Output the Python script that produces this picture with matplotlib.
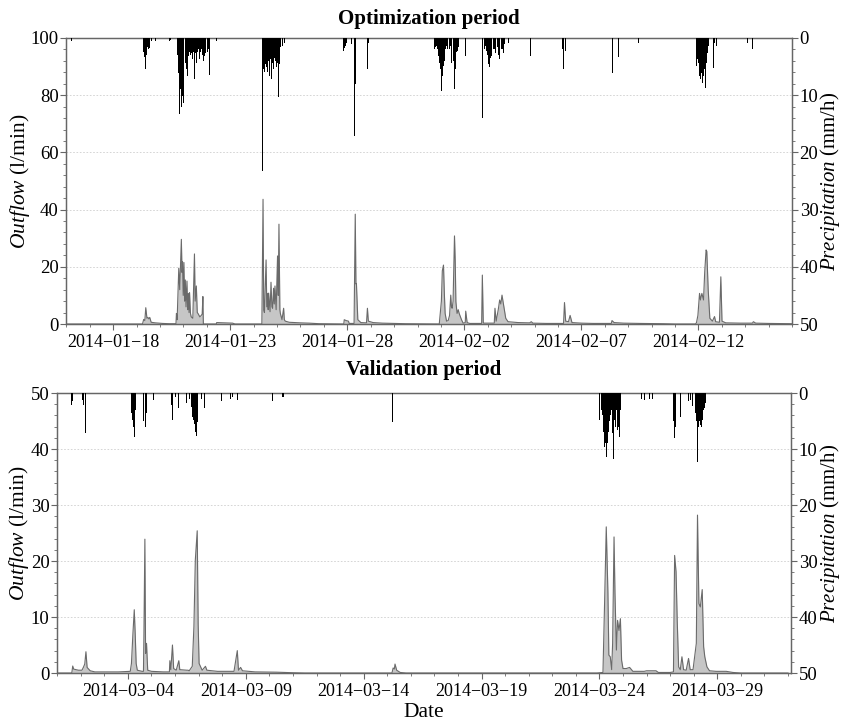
import numpy as np
import pandas as pd
import matplotlib
matplotlib.use("Agg")
import matplotlib.pyplot as plt
from matplotlib.ticker import MultipleLocator

# --- optimization period (days since 2014-01-16) ---
opt_start = "2014-01-16"
opt_q_day = [0.00, 3.25, 3.30, 3.35, 3.39, 3.44, 3.48, 3.52, 3.56, 3.62, 3.80, 4.10, 4.40,
             4.68, 4.70, 4.73, 4.80, 4.84, 4.91, 4.94, 4.96, 4.99, 5.02, 5.05, 5.08, 5.11,
             5.15, 5.18, 5.21, 5.24, 5.26, 5.30, 5.33, 5.40, 5.47, 5.50, 5.55, 5.59, 5.62,
             5.70, 5.76, 5.80, 5.83, 5.85, 6.40, 6.42, 7.10, 7.20,
             8.35, 8.40, 8.43, 8.46, 8.53, 8.56, 8.60, 8.62, 8.64, 8.70, 8.74, 8.78, 8.81,
             8.85, 8.88, 8.91, 8.96, 9.02, 9.05, 9.08, 9.12, 9.14, 9.21, 9.28, 9.31, 9.35,
             9.52, 10.00, 10.37, 10.80,
             11.85, 11.87, 11.95, 12.05, 12.08, 12.29, 12.34, 12.37, 12.39, 12.45, 12.58,
             12.82, 12.86, 12.90, 13.10, 13.50, 14.00, 14.50,
             15.93, 15.96, 16.02, 16.06, 16.11, 16.15, 16.18, 16.24, 16.31, 16.37, 16.42,
             16.45, 16.48, 16.52, 16.58, 16.61, 16.64, 16.69, 16.74, 16.78, 16.88, 16.95,
             17.04, 17.06, 17.12, 17.23, 17.74, 17.77, 17.81, 17.83, 18.28, 18.31, 18.36,
             18.45, 18.51, 18.56, 18.61, 18.68, 18.77, 18.87, 19.30, 19.79, 19.86, 19.93,
             20.50, 21.24, 21.28, 21.33, 21.45, 21.52, 21.60, 22.00, 22.50, 23.28, 23.31,
             23.40, 23.80, 24.50, 25.50, 26.00,
             26.88, 26.92, 26.98, 27.05, 27.09, 27.15, 27.22, 27.27, 27.33, 27.36, 27.42,
             27.49, 27.60, 27.69, 27.74, 27.90, 27.96, 28.01, 28.17, 28.80, 29.31, 29.35,
             29.45, 30.00, 31.00]
opt_q = [0.0, 0.0, 1.6, 1.2, 5.7, 2.0, 2.3, 1.8, 2.3, 0.6, 0.4, 0.2, 0.1,
         0.1, 3.7, 1.5, 19.5, 12.0, 29.6, 18.0, 21.8, 10.0, 21.5, 8.0, 15.4, 6.0,
         15.0, 5.0, 10.7, 4.0, 11.0, 3.7, 2.5, 2.0, 24.5, 8.0, 13.3, 4.0, 3.7,
         2.5, 3.0, 3.5, 9.6, 0.0, 0.0, 0.5, 0.3, 0.0,
         0.0, 43.6, 4.9, 4.0, 22.4, 6.0, 10.7, 5.0, 10.8, 4.3, 14.6, 6.0, 5.5,
         12.5, 7.0, 13.3, 5.0, 23.8, 10.0, 34.9, 5.0, 3.7, 1.5, 5.5, 1.5, 1.0,
         0.6, 0.4, 0.3, 0.1,
         0.0, 1.5, 1.2, 1.0, 0.2, 0.2, 38.4, 14.0, 14.2, 1.5, 0.5,
         0.4, 5.5, 1.0, 0.5, 0.3, 0.2, 0.1,
         0.0, 2.6, 8.0, 18.6, 20.6, 10.0, 3.7, 1.0, 1.2, 3.0, 10.1,
         6.0, 5.5, 8.0, 30.8, 22.6, 7.8, 3.7, 5.0, 3.7, 1.5, 0.3,
         0.5, 4.5, 0.5, 0.2, 0.2, 17.1, 0.5, 0.3, 0.3, 5.5, 1.0,
         5.0, 8.4, 7.0, 10.1, 6.6, 2.0, 0.8, 0.5, 0.4, 0.8, 0.3,
         0.2, 0.2, 7.5, 1.0, 0.8, 3.0, 0.5, 0.3, 0.2, 0.2, 1.2,
         0.5, 0.3, 0.2, 0.1, 0.0,
         0.0, 0.5, 3.0, 10.7, 8.4, 10.7, 8.4, 18.0, 25.9, 25.4, 12.0,
         2.0, 1.0, 2.6, 0.8, 0.6, 16.5, 1.0, 0.4, 0.3, 0.3, 0.8,
         0.3, 0.2, 0.1]

opt_p_day = [0.22,
             3.27, 3.30, 3.34, 3.37, 3.39, 3.42, 3.44, 3.47, 3.50, 3.53, 3.56, 3.63, 3.80,
             4.40, 4.45,
             4.72, 4.75, 4.78, 4.81, 4.84, 4.86, 4.89, 4.92, 4.95, 4.97, 4.99, 5.01, 5.03,
             5.06, 5.08, 5.10, 5.12, 5.14, 5.16, 5.19, 5.22, 5.25, 5.28, 5.30, 5.33, 5.36,
             5.40, 5.43, 5.46, 5.49, 5.52, 5.55, 5.57, 5.60, 5.63, 5.66, 5.69, 5.72, 5.76,
             5.80, 5.83, 5.86, 5.89, 5.91, 5.94, 5.97, 6.00, 6.03, 6.06, 6.08, 6.11, 6.14,
             6.17, 6.26, 6.40, 6.61,
             8.39, 8.41, 8.43, 8.45, 8.47, 8.50, 8.53, 8.55, 8.57, 8.59, 8.61, 8.64, 8.67,
             8.69, 8.71, 8.74, 8.76, 8.78, 8.81, 8.83, 8.86, 8.88, 8.90, 8.93, 8.95, 8.98,
             9.01, 9.04, 9.07, 9.09, 9.11, 9.14, 9.17, 9.24, 9.31,
             11.85, 11.88, 11.91, 11.97, 12.18, 12.28, 12.30, 12.32, 12.34, 12.36, 12.41,
             12.86, 12.90,
             15.74, 15.77, 15.80, 15.85, 15.89, 15.92, 15.94, 15.96, 15.98, 16.00, 16.03,
             16.05, 16.07, 16.09, 16.11, 16.14, 16.17, 16.20, 16.23, 16.26, 16.28, 16.31,
             16.34, 16.37, 16.40, 16.43, 16.45, 16.48, 16.51, 16.54, 16.57, 16.59, 16.61,
             16.63, 16.65, 16.68, 16.71, 16.74, 16.77, 17.05,
             17.79, 17.85, 17.90, 17.93, 17.96, 17.99, 18.02, 18.04, 18.06, 18.08, 18.10,
             18.13, 18.16, 18.19, 18.22, 18.25, 18.27, 18.30, 18.33, 18.36, 18.39, 18.42,
             18.44, 18.47, 18.50, 18.53, 18.56, 18.58, 18.61, 18.64, 18.67, 18.70, 18.73,
             18.90, 19.42, 19.64, 19.82,
             21.20, 21.25, 21.31, 21.48, 23.34, 23.40, 23.58, 24.38, 24.44, 24.55,
             26.92, 26.94, 26.96, 26.99, 27.01, 27.03, 27.05, 27.07, 27.09, 27.11, 27.13,
             27.16, 27.18, 27.20, 27.22, 27.24, 27.26, 27.28, 27.30, 27.33, 27.35, 27.37,
             27.39, 27.41, 27.43, 27.65, 27.70, 27.77, 27.84, 27.93, 29.09, 29.32]
opt_p = [0.6,
         3.1, 2.5, 3.4, 2.8, 5.4, 3.0, 2.3, 1.5, 2.0, 1.2, 1.7, 0.5, 0.5,
         0.6, 0.4,
         4.0, 3.0, 6.1, 8.0, 13.3, 9.0, 15.7, 12.0, 10.1, 7.0, 11.3, 8.0, 6.6,
         3.5, 4.3, 4.0, 5.5, 3.0, 6.6, 4.0, 3.1, 2.5, 4.9, 3.0, 2.6, 2.0,
         3.7, 2.5, 7.2, 3.0, 2.6, 2.0, 4.3, 2.5, 2.0, 1.5, 3.7, 2.5, 2.0,
         3.0, 8.1, 4.0, 3.1, 1.5, 2.6, 2.0, 4.3, 2.5, 2.0, 1.5, 6.4, 2.0,
         1.4, 0.8, 0.5, 1.4,
         23.3, 4.0, 5.5, 6.0, 3.1, 4.5, 7.2, 5.0, 8.7, 6.0, 4.9, 4.0, 6.6,
         5.0, 3.7, 4.5, 7.2, 3.0, 4.3, 4.0, 5.5, 3.5, 3.1, 4.0, 6.1, 5.0,
         4.3, 3.0, 10.4, 4.5, 3.1, 1.5, 2.0, 1.4, 0.8,
         2.3, 1.8, 1.4, 0.8, 1.1, 2.3, 3.0, 17.1, 8.0, 6.9, 2.6,
         5.5, 0.8,
         2.0, 1.5, 1.4, 2.0, 3.1, 3.5, 4.3, 4.5, 5.5, 6.0, 9.3,
         7.0, 6.6, 5.5, 4.9, 4.0, 3.1, 2.0, 1.4, 1.5, 2.0, 1.5,
         2.3, 2.0, 1.4, 3.0, 4.3, 3.5, 3.1, 4.0, 9.0, 6.0, 5.5,
         4.0, 3.1, 2.5, 2.3, 1.5, 0.8, 3.1,
         13.9, 2.0, 1.4, 2.0, 2.3, 3.0, 3.7, 4.5, 5.8, 5.0, 4.3,
         3.5, 3.1, 2.5, 2.9, 2.0, 1.7, 2.0, 2.6, 2.2, 2.0, 1.6,
         1.4, 3.0, 3.7, 2.5, 2.9, 2.0, 2.3, 2.0, 2.6, 1.5, 1.1,
         0.8, 0.5, 2.0, 3.1,
         2.0, 5.5, 2.3, 4.3, 6.1, 1.1, 3.4, 1.4, 0.8, 0.8,
         4.9, 4.0, 3.7, 4.5, 4.3, 5.0, 6.6, 6.0, 7.2, 5.5, 6.1,
         5.0, 7.8, 6.0, 6.6, 5.0, 5.5, 6.0, 8.7, 5.0, 4.3, 3.0,
         2.6, 2.0, 1.4, 5.2, 0.8, 1.4, 0.8, 5.5, 0.8, 2.0]
opt_ticks = ["2014-01-18", "2014-01-23", "2014-01-28", "2014-02-02", "2014-02-07", "2014-02-12"]
opt_end = "2014-02-16"

# --- validation period (days since 2014-03-01) ---
val_start = "2014-03-01"
val_q_day = [0.00, 0.62, 0.66, 0.70, 0.90, 1.05, 1.11, 1.17, 1.22, 1.27, 1.40, 1.60, 2.60,
             3.10, 3.15, 3.21, 3.27, 3.31, 3.35, 3.40, 3.60, 3.66, 3.68, 3.72, 3.75, 3.79,
             3.84, 4.00, 4.50, 4.76, 4.78, 4.82, 4.89, 4.94, 5.05, 5.16, 5.20, 5.50, 5.55,
             5.60, 5.73, 5.80, 5.86, 5.94, 5.98, 6.02, 6.15, 6.29, 6.35, 6.80, 7.50, 7.64,
             7.69, 7.78, 7.86, 8.40, 9.30, 10.00, 10.50,
             14.20, 14.25, 14.30, 14.33, 14.40, 14.55, 14.80,
             22.90, 23.15, 23.22, 23.29, 23.36, 23.40, 23.46, 23.52, 23.56, 23.62, 23.66,
             23.72, 23.77, 23.83, 23.89, 23.94, 24.00, 24.14, 24.28, 24.42, 24.90, 25.00,
             25.40, 25.50, 26.00, 26.14, 26.19, 26.25, 26.30, 26.36, 26.43, 26.50, 26.57,
             26.68, 26.78, 26.85, 26.97, 27.11, 27.16, 27.22, 27.28, 27.36, 27.42, 27.47,
             27.56, 27.67, 27.95, 28.38, 28.66, 29.00, 31.00]
val_q = [0.0, 0.0, 1.25, 0.7, 0.5, 0.5, 1.0, 1.6, 3.8, 1.0, 0.4, 0.2, 0.2,
         0.3, 1.7, 6.8, 11.3, 7.0, 1.7, 0.5, 0.3, 0.3, 6.8, 23.9, 3.5, 5.3,
         0.5, 0.3, 0.2, 0.2, 2.2, 0.6, 5.0, 0.8, 0.5, 2.2, 0.6, 0.5, 0.5,
         0.4, 1.2, 8.3, 20.2, 25.4, 8.8, 1.7, 0.5, 1.2, 0.5, 0.3, 0.3, 4.0,
         0.5, 1.0, 0.4, 0.2, 0.15, 0.05, 0.0,
         0.0, 0.9, 0.7, 1.6, 0.5, 0.1, 0.0,
         0.0, 0.1, 12.7, 26.1, 14.5, 3.2, 2.9, 0.6, 5.3, 24.3, 14.2,
         4.1, 9.4, 7.6, 9.7, 2.3, 0.8, 0.8, 1.0, 0.3, 0.3, 0.4,
         0.4, 0.1, 0.1, 0.2, 21.0, 18.1, 9.4, 1.1, 0.6, 2.9, 0.6,
         0.5, 2.6, 0.6, 0.6, 5.3, 28.2, 12.4, 11.8, 14.9, 4.7, 2.9,
         1.1, 0.4, 0.3, 0.3, 0.1, 0.0, 0.0]

val_p_day = [0.61, 0.66, 0.71, 0.84, 1.01, 1.07, 1.12, 1.18, 1.21,
             3.14, 3.16, 3.18, 3.20, 3.22, 3.24, 3.27, 3.29, 3.31,
             3.65, 3.67, 3.69, 3.72, 3.74, 3.76, 3.79, 3.81, 3.98, 4.09,
             4.78, 4.84, 4.88, 4.95, 5.02, 5.14, 5.49, 5.60,
             5.70, 5.74, 5.77, 5.80, 5.82, 5.84, 5.86, 5.88, 5.91, 5.93, 5.95, 6.01,
             6.12, 6.24, 6.35, 6.69, 6.86, 6.97, 7.25, 7.35, 7.44, 7.54, 7.59, 7.65,
             8.31, 8.43, 9.12, 9.56, 9.60, 14.22, 14.25,
             22.94, 23.01, 23.08, 23.12, 23.15, 23.18, 23.21, 23.23, 23.25, 23.27, 23.29,
             23.31, 23.32, 23.34, 23.36, 23.38, 23.41, 23.43, 23.45, 23.47, 23.50, 23.53,
             23.56, 23.58, 23.60, 23.62, 23.65, 23.67, 23.69, 23.71, 23.73, 23.75, 23.77,
             23.79, 23.82, 23.84, 23.86, 23.90, 24.04, 24.21,
             24.78, 24.92, 25.02, 25.13, 25.24,
             26.12, 26.14, 26.16, 26.18, 26.20, 26.22, 26.25, 26.29, 26.44,
             26.71, 26.77, 26.85, 26.94, 27.01, 27.07, 27.11, 27.13, 27.15, 27.17, 27.19,
             27.21, 27.23, 27.25, 27.28, 27.30, 27.32, 27.34, 27.36, 27.38, 27.40, 27.42,
             27.45, 27.47, 27.49, 28.24]
val_p = [2.1, 1.5, 1.0, 0.7, 1.8, 1.3, 2.1, 1.8, 7.1,
         2.5, 3.6, 4.0, 4.8, 5.0, 6.0, 7.8, 5.0, 3.0,
         4.2, 5.0, 6.3, 10.1, 6.0, 4.5, 3.5, 3.3, 1.8, 1.3,
         4.2, 2.1, 4.9, 1.3, 0.7, 2.7, 1.8, 1.0,
         2.5, 4.2, 4.8, 5.4, 5.5, 6.3, 6.5, 6.9, 7.7, 6.0, 5.1, 1.8,
         1.0, 2.7, 1.0, 1.3, 1.8, 1.5, 0.7, 1.0, 0.7, 1.5, 3.5, 1.3,
         1.0, 0.7, 1.5, 0.65, 0.7, 5.1, 3.9,
         1.0, 4.8, 3.0, 4.0, 6.0, 7.0, 9.6, 8.0, 7.8, 9.0, 11.4,
         10.0, 14.6, 9.0, 8.4, 7.0, 6.0, 5.0, 5.4, 4.0, 3.0, 5.0,
         7.2, 8.0, 11.8, 6.0, 4.8, 5.0, 6.0, 4.0, 3.0, 5.0, 6.6,
         5.0, 6.0, 5.0, 7.8, 3.0, 1.8, 4.2,
         1.0, 1.3, 1.0, 1.0, 1.0,
         4.2, 5.0, 7.2, 8.0, 9.6, 6.0, 4.8, 1.8, 4.2,
         3.0, 1.5, 1.3, 2.4, 1.8, 3.6, 4.2, 5.0, 12.3, 7.0, 6.0,
         5.0, 4.8, 5.0, 5.7, 5.0, 6.0, 5.0, 4.8, 4.0, 3.6, 3.0,
         2.7, 2.0, 1.8, 0.4]
val_ticks = ["2014-03-04", "2014-03-09", "2014-03-14", "2014-03-19", "2014-03-24", "2014-03-29"]
val_end = "2014-04-01 03:00"

plt.rcParams["font.family"] = "Liberation Serif"
plt.rcParams["mathtext.fontset"] = "custom"
plt.rcParams["mathtext.rm"] = "Liberation Serif"
plt.rcParams["mathtext.it"] = "Liberation Serif:italic"

spine_c = "#666666"
FIG_W = 842


def to_time(start, days):
    return pd.Timestamp(start) + pd.to_timedelta(np.array(days), unit="D")


def panel(ax, title, title_pad, start, end, q_day, q, p_day, p, ticks, qmax, qmajor, qminor):
    tq = to_time(start, q_day)
    ax.fill_between(tq, q, 0, color="#c6c6c6", lw=0, zorder=2)
    ax.plot(tq, q, color="#6a6a6a", lw=0.8, zorder=3)
    ax.set_ylim(0, qmax)
    ax.set_xlim(pd.Timestamp(start), pd.Timestamp(end))
    ax.yaxis.set_major_locator(MultipleLocator(qmajor))
    ax.yaxis.set_minor_locator(MultipleLocator(qminor))
    ax.grid(axis="y", color="#cfcfcf", ls=(0, (2, 2)), lw=0.6, zorder=0)

    tick_pos = [pd.Timestamp(s) for s in ticks]
    ax.set_xticks(tick_pos)
    ax.set_xticklabels([s.replace("-", "\u2212") for s in ticks])
    days = pd.date_range(pd.Timestamp(start), pd.Timestamp(end), freq="D")
    ax.set_xticks(days, minor=True)

    # axis pixel geometry, used to place the y labels near the figure edges
    bb = ax.get_position()
    x0 = bb.x0 * FIG_W
    w = bb.width * FIG_W

    ax.set_ylabel(r"$\mathit{Outflow}$ (l/min)", fontsize=15.5)
    ax.yaxis.set_label_coords((31.5 - x0) / w, 0.5)
    ax.set_title(title, fontweight="bold", fontsize=15, pad=title_pad)

    ax2 = ax.twinx()
    ax2.bar(to_time(start, p_day), p, width=0.028, color="black", lw=0, zorder=4)
    ax2.set_ylim(50, 0)
    ax2.yaxis.set_major_locator(MultipleLocator(10))
    ax2.yaxis.set_minor_locator(MultipleLocator(2))
    ax2.set_ylabel(r"$\mathit{Precipitation}$ (mm/h)", fontsize=15)
    ax2.yaxis.set_label_coords((818.5 - x0) / w, 0.5)

    for a in (ax, ax2):
        for s in a.spines.values():
            s.set_color(spine_c)
            s.set_linewidth(0.9)
        a.tick_params(which="both", colors=spine_c, labelcolor="black")
        a.tick_params(axis="x", labelsize=13)
        a.tick_params(axis="y", labelsize=13.5, pad=1.5)
        a.tick_params(which="major", length=4)
        a.tick_params(which="minor", length=2.5)
    return ax2


fig = plt.figure(figsize=(8.42, 7.25), dpi=100)
ax_top = fig.add_axes([0.0789, 0.5531, 0.8617, 0.3945])
ax_bot = fig.add_axes([0.0679, 0.0717, 0.8715, 0.3862])

panel(ax_top, "Optimization period", 10, opt_start, opt_end, opt_q_day, opt_q,
      opt_p_day, opt_p, opt_ticks, 100, 20, 4)
panel(ax_bot, "Validation period", 13, val_start, val_end, val_q_day, val_q,
      val_p_day, val_p, val_ticks, 50, 10, 2)
ax_bot.set_xlabel("Date", fontsize=15.5, labelpad=2)

fig.savefig("out.png", dpi=100)
